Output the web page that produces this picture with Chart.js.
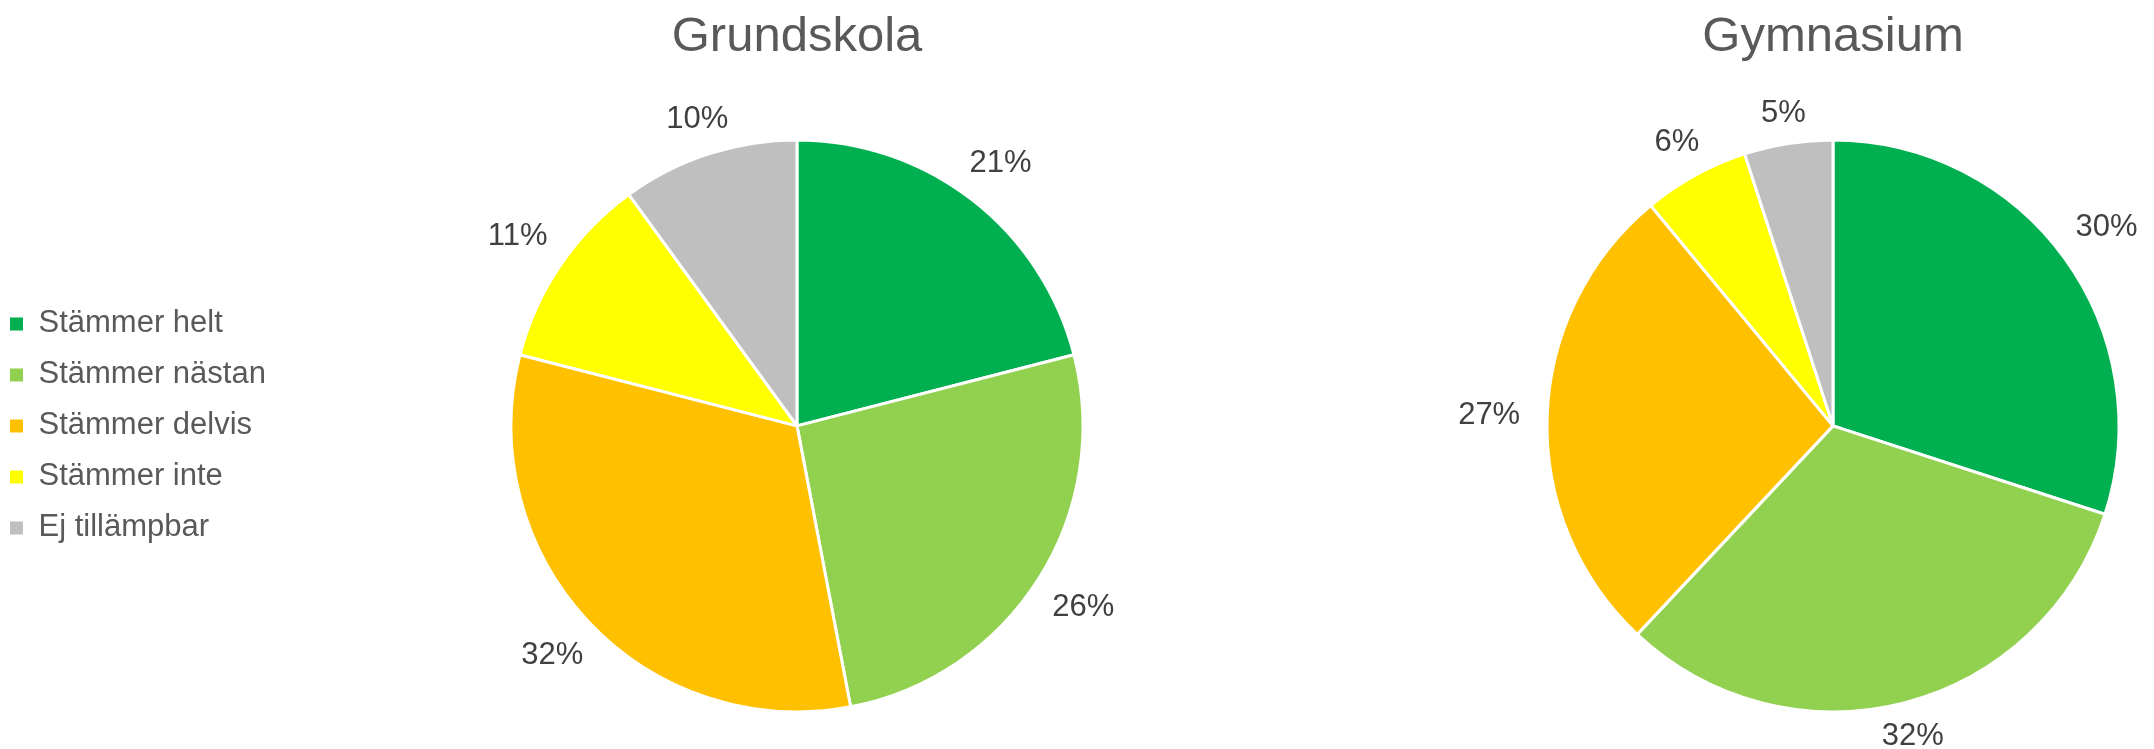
<!DOCTYPE html>
<html>
<head>
<meta charset="utf-8">
<script src="https://cdn.jsdelivr.net/npm/chart.js@4/dist/chart.umd.min.js"></script>
<style>
  html, body { margin: 0; padding: 0; background: #fff; overflow: hidden; }
  #wrap { position: relative; width: 2154px; height: 749px; overflow: hidden; }
  canvas { position: absolute; top: 0; }
  #grund { left: 0; }
  #gym { left: 1380px; }
</style>
</head>
<body>
<div id="wrap">
  <canvas id="grund" width="1594" height="749"></canvas>
  <canvas id="gym" width="906" height="749"></canvas>
</div>
<script>
// answer categories and share (%) per school type
const categories = ['Stämmer helt', 'Stämmer nästan', 'Stämmer delvis', 'Stämmer inte', 'Ej tillämpbar'];
const grundskola = [21, 26, 32, 11, 10];
const gymnasium = [30, 32, 27, 6, 5];
const titles = ['Grundskola', 'Gymnasium'];
const sliceColors = ['#00B050', '#92D050', '#FFC000', '#FFFF00', '#BFBFBF'];

const FONT = '"Liberation Sans", Arial, sans-serif';

// percent labels just outside each slice
const outsideLabels = {
    id: 'outsideLabels',
    afterDatasetsDraw(chart) {
        const ctx = chart.ctx;
        const meta = chart.getDatasetMeta(0);
        const values = chart.data.datasets[0].data;
        ctx.save();
        ctx.font = '31px ' + FONT;
        ctx.fillStyle = '#404040';
        ctx.textAlign = 'center';
        ctx.textBaseline = 'middle';
        meta.data.forEach((arc, i) => {
            const p = arc.getProps(['x', 'y', 'startAngle', 'endAngle', 'outerRadius'], true);
            const mid = (p.startAngle + p.endAngle) / 2;
            const dx = Math.cos(mid), dy = Math.sin(mid);
            const text = values[i] + '%';
            const w = ctx.measureText(text).width;
            // push wider labels a bit further out when they sit to the side
            const r = p.outerRadius + 27 + (w / 2) * Math.abs(dx);
            ctx.fillText(text, p.x + dx * r, p.y + dy * r);
        });
        ctx.restore();
    }
};

function makePie(canvasId, title, values, showLegend) {
    return new Chart(document.getElementById(canvasId), {
        type: 'pie',
        data: {
            labels: categories,
            datasets: [{
                data: values,
                backgroundColor: sliceColors,
                borderColor: '#ffffff',
                borderWidth: 3,
                radius: 286
            }]
        },
        options: {
            responsive: false,
            animation: false,
            layout: { padding: { left: showLegend ? -10 : 0, right: 0, top: 0, bottom: 0 } },
            plugins: {
                title: {
                    display: true,
                    text: title,
                    fullSize: false,
                    color: '#595959',
                    font: { family: FONT, size: 49, weight: 'normal' },
                    padding: { top: 8, bottom: 36 }
                },
                legend: {
                    display: showLegend,
                    position: 'left',
                    align: 'center',
                    fullSize: false,
                    labels: {
                        boxWidth: 13,
                        boxHeight: 13,
                        padding: 20,
                        color: '#595959',
                        font: { family: FONT, size: 31 },
                        generateLabels(chart) {
                            return Chart.overrides.doughnut.plugins.legend.labels.generateLabels(chart)
                                .map(l => Object.assign(l, { lineWidth: 0, strokeStyle: l.fillStyle }));
                        }
                    }
                },
                tooltip: { enabled: false }
            }
        },
        plugins: [outsideLabels]
    });
}

// shift the chart area sideways so the pie centre lands where it is in the original
function recenterX(chart, cx) {
    const pad = chart.options.layout.padding;
    const a = chart.chartArea;
    pad.right += 2 * ((a.left + a.right) / 2 - cx);
    chart.update();
}

const grundChart = makePie('grund', titles[0], grundskola, true);
const gymChart = makePie('gym', titles[1], gymnasium, false);
recenterX(grundChart, 797);
</script>
</body>
</html>
